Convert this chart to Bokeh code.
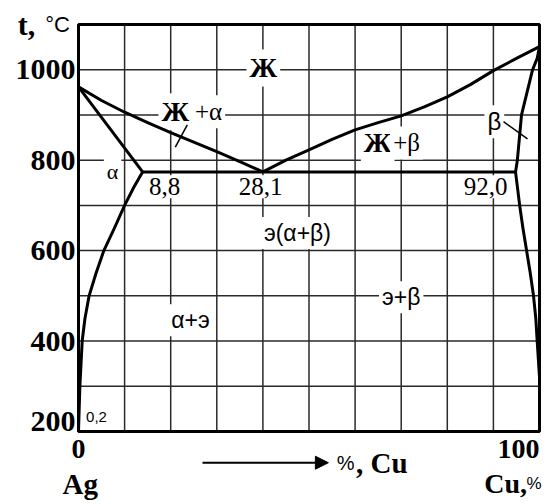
from bokeh.plotting import figure
from bokeh.models import Label, Arrow, NormalHead, Range1d
from bokeh.embed import file_html
from bokeh.resources import INLINE

# ---- data (composition % Cu, temperature °C) ----
liq_left_x = [0, 5, 10, 15, 20, 25, 30, 35, 40]
liq_left_t = [962, 932, 906, 883, 861, 840, 819, 797, 774]
liq_right_x = [40, 45, 50, 55, 60, 65, 70, 75, 80, 85, 90, 95, 100]
liq_right_t = [774, 800, 823, 846, 867, 883, 898, 918, 940, 967, 998, 1025, 1051]
sol_left_x = [0, 13.9]
sol_left_t = [962, 774]
solv_left_x = [13.9, 12, 10, 7.8, 5.5, 3.8, 2.3, 1.4, 0.8, 0.3, 0]
solv_left_t = [774, 740, 700, 650, 600, 550, 500, 450, 400, 300, 200]
sol_right_x = [100, 99.5, 98.5, 96.1, 95.2, 94.8]
sol_right_t = [1051, 1025, 1000, 900, 800, 774]
solv_right_x = [94.8, 95.7, 96.4, 97.2, 98.0, 98.7, 99.2, 99.5, 100]
solv_right_t = [774, 700, 650, 600, 550, 500, 450, 400, 320]
eut_x = [13.9, 94.8]
eut_t = [774, 774]
lead_ja_x = [23.6, 21.0]
lead_ja_t = [878, 829]
lead_beta_x = [92.2, 97.4]
lead_beta_t = [885, 847]

y_ticks = [200, 400, 600, 800, 1000]
y_tick_labels = ["200", "400", "600", "800", "1000"]
x_ticks = [0, 100]
x_tick_labels = ["0", "100"]
grid_x = list(range(0, 101, 10))
grid_t = list(range(200, 1101, 100))

SERIF = "Liberation Serif"
SANS = "Liberation Sans"

# ---- layout: the plotting frame fills the figure, chart box drawn inside ----
W, H = 554, 502
BOX_L, BOX_R, BOX_T, BOX_B = 78, 539, 24, 431   # pixel edges of the chart box
X0, X1 = grid_x[0], grid_x[-1]
T0, T1 = grid_t[0], grid_t[-1]
sx = (BOX_R - BOX_L) / (X1 - X0)
st = (BOX_B - BOX_T) / (T1 - T0)

p = figure(width=W, height=H,
           x_range=Range1d(X0 - BOX_L / sx, X1 + (W - BOX_R) / sx),
           y_range=Range1d(T0 - (H - BOX_B) / st, T1 + BOX_T / st),
           output_backend="svg", toolbar_location=None,
           x_axis_location=None, y_axis_location=None,
           min_border=0, min_border_left=0, min_border_right=0,
           min_border_top=0, min_border_bottom=0)
p.background_fill_color = "white"
p.border_fill_color = "white"
p.outline_line_color = None
p.grid.visible = False

# grid (underlay so label boxes can break it)
gx = grid_x[1:-1]
gt = grid_t[1:-1]
p.segment(x0=gx, y0=[T0] * len(gx), x1=gx, y1=[T1] * len(gx),
          line_color="#2a2a2a", line_width=1.5, level="underlay")
p.segment(x0=[X0] * len(gt), y0=gt, x1=[X1] * len(gt), y1=gt,
          line_color="#2a2a2a", line_width=1.5, level="underlay")


def lab(x, y, text, size, font=SERIF, style="normal", align="center", bg=True):
    kw = dict(x=x, y=y, text=text, text_font=font, text_font_size=f"{size}px",
              text_font_style=style, text_align=align, text_baseline="middle",
              text_color="black")
    if bg:
        kw.update(background_fill_color="white", padding=3, level="underlay")
    p.add_layout(Label(**kw))


# region labels
lab(40.1, 1004, "Ж", 28, style="bold")
lab(21.0, 907, "Ж", 28, style="bold")
lab(24.6, 907, "+α", 25, align="left")
lab(64.9, 838, "Ж", 28, style="bold")
lab(67.6, 838, "+β", 25, align="left")
lab(90.2, 885, "β", 24, font=SANS)
lab(7.4, 774, "α", 22)
lab(18.7, 741, "8,8", 25)
lab(39.5, 741, "28,1", 25)
lab(88.3, 741, "92,0", 25)
lab(47.5, 639, "э(α+β)", 23, font=SANS)
lab(24.3, 446, "α+э", 23, font=SANS)
lab(70.0, 497, "э+β", 23, font=SANS)
lab(3.9, 233, "0,2", 15, font=SANS, bg=False)

# phase boundaries
LW = 3
for xs, ts in [(liq_left_x, liq_left_t), (liq_right_x, liq_right_t),
               (sol_left_x, sol_left_t), (solv_left_x, solv_left_t),
               (sol_right_x, sol_right_t), (solv_right_x, solv_right_t),
               (eut_x, eut_t)]:
    p.line(xs, ts, line_color="black", line_width=LW, line_join="round")
for xs, ts in [(lead_ja_x, lead_ja_t), (lead_beta_x, lead_beta_t)]:
    p.line(xs, ts, line_color="black", line_width=1.5)

# chart box
p.quad(left=[X0], right=[X1], bottom=[T0], top=[T1], fill_color=None,
       line_color="black", line_width=3)

# tick labels
for t, s in zip(y_ticks, y_tick_labels):
    ty = t + 10 / st if t == T0 else t
    lab(X0 - 3 / sx, ty, s, 30, style="bold", align="right", bg=False)
x_label_shift = {0: 0, 100: -21}
for xv, s in zip(x_ticks, x_tick_labels):
    lab(xv + x_label_shift[xv] / sx, T0 - 17 / st, s, 28, style="bold", bg=False)

# outer texts
lab(-13.2, 1100, "t,", 30, style="bold", align="left", bg=False)
lab(-7.2, 1101, "°C", 22, font=SANS, align="left", bg=False)
lab(0.4, 84, "Ag", 29, style="bold", bg=False)
lab(88.0, 84, "Cu,", 28, style="bold", align="left", bg=False)
lab(97.2, 85, "%", 17, font=SANS, align="left", bg=False)
lab(56.0, 131, "%", 20, font=SANS, align="left", bg=False)
lab(60.2, 131, ", Cu", 29, style="bold", align="left", bg=False)

p.add_layout(Arrow(x_start=26.9, y_start=131, x_end=54.2, y_end=131,
                   line_color="black", line_width=2,
                   end=NormalHead(size=13, fill_color="black", line_color="black")))

open("out.html", "w").write(file_html(p, INLINE))
